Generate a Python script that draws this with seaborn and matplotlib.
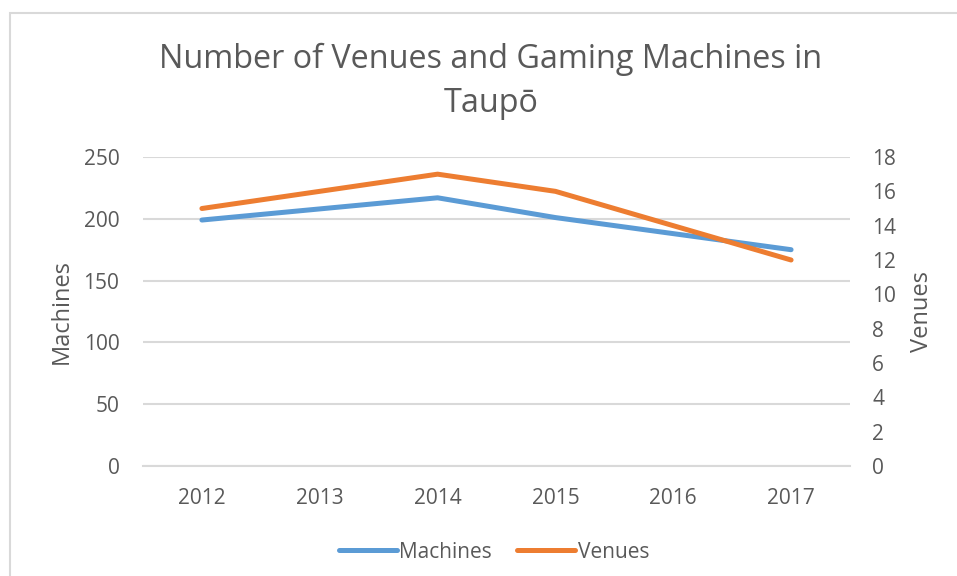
import matplotlib
matplotlib.use("Agg")
import matplotlib.pyplot as plt
import seaborn as sns
import pandas as pd
from matplotlib.patches import Rectangle
from matplotlib.lines import Line2D

# Data
years = ["2012", "2013", "2014", "2015", "2016", "2017"]
machines = [199, 208, 217, 201, 188, 175]
venues = [15, 16, 17, 16, 14, 12]

df = pd.DataFrame({"year": years, "Machines": machines, "Venues": venues})

sns.set_style("white")
plt.rcParams["font.family"] = ["Open Sans", "DejaVu Sans"]

text_col = "#595959"
grid_col = "#D9D9D9"
blue = "#5B9BD5"
orange = "#ED7D31"

fig = plt.figure(figsize=(9.57, 5.76), dpi=100)
ax = fig.add_axes([143 / 957, 1 - 466 / 576, (850 - 143) / 957, (466 - 157) / 576])
ax2 = ax.twinx()

sns.lineplot(data=df, x="year", y="Machines", ax=ax, color=blue, linewidth=3.6,
             sort=False, solid_capstyle="round")
sns.lineplot(data=df, x="year", y="Venues", ax=ax2, color=orange, linewidth=3.6,
             sort=False, solid_capstyle="round")

ax.set_xlim(-0.5, 5.5)
ax.set_ylim(0, 250)
ax.set_yticks(range(0, 251, 50))
ax2.set_ylim(0, 18)
ax2.set_yticks(range(0, 19, 2))

ax.yaxis.grid(True, color=grid_col, linewidth=1.5)
ax.set_axisbelow(True)
for a in (ax, ax2):
    for s in a.spines.values():
        s.set_visible(False)
ax.spines["bottom"].set_visible(True)
ax.spines["bottom"].set_color(grid_col)
ax.spines["bottom"].set_linewidth(1.5)

ax.tick_params(axis="y", length=0, pad=17, labelsize=15, colors=text_col)
ax2.tick_params(axis="y", length=0, pad=16, labelsize=15, colors=text_col)
ax.tick_params(axis="x", length=0, pad=16, labelsize=15, colors=text_col)
ax.set_xticks(range(len(years)), years, minor=False)
ax.set_xticks([i - 0.5 for i in range(len(years) + 1)], minor=True)
ax.tick_params(axis="x", which="minor", length=6, width=1.2, color=grid_col, direction="out")

ax.set_xlabel("")
ax.set_ylabel("Machines", fontsize=17, color=text_col, va="center")
ax2.set_ylabel("Venues", fontsize=17, color=text_col, va="center")
ax.yaxis.set_label_coords((62 - 143) / 707, 0.5)
ax2.yaxis.set_label_coords((922 - 143) / 707, 0.5)

fig.text(491 / 957, 1 - 43 / 576, "Number of Venues and Gaming Machines in\nTaupō",
         ha="center", va="top", fontsize=23.3, color=text_col, linespacing=1.45,
         transform=fig.transFigure)

handles = [Line2D([0], [0], color=blue, lw=3.6),
           Line2D([0], [0], color=orange, lw=3.6)]
fig.legend(handles, ["Machines", "Venues"], loc="center",
           bbox_to_anchor=(494 / 957, 1 - 552 / 576), ncol=2, frameon=False,
           fontsize=15, handlelength=2.8, handletextpad=0.1, columnspacing=1.2,
           labelcolor=text_col)

fig.add_artist(Rectangle((10 / 957, -0.1), 1.2, 1 - 13 / 576 + 0.1,
                         transform=fig.transFigure, fill=False,
                         edgecolor=grid_col, linewidth=1.5))

fig.savefig("out.png", dpi=100)
